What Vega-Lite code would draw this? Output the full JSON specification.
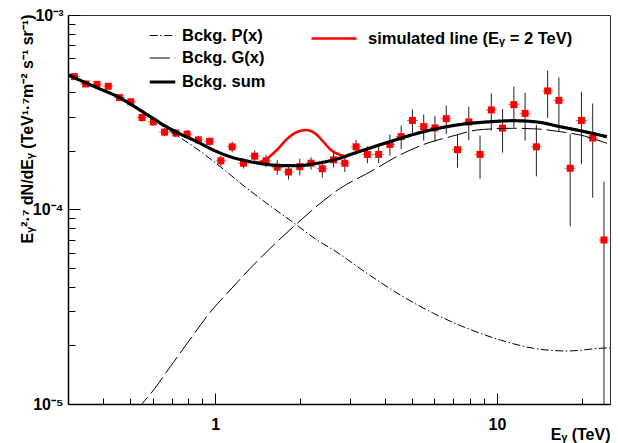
{
  "$schema": "https://vega.github.io/schema/vega-lite/v6.json",
  "width": 542,
  "height": 389,
  "autosize": {"type": "none"},
  "padding": {"left": 68, "top": 15, "right": 8, "bottom": 39},
  "background": "white",
  "config": {
    "view": {"stroke": "#333", "strokeWidth": 1},
    "font": "Liberation Sans",
    "legend": {"labelFont": "Liberation Sans", "labelFontSize": 16.5, "labelFontWeight": "bold", "labelColor": "black", "labelLimit": 400}
  },
  "resolve": {"axis": {"x": "independent"}},
  "datasets": {
    "points": [
      {"x": 0.3162, "y": 4.82e-4, "lo": 4.70e-4, "hi": 4.94e-4},
      {"x": 0.3467, "y": 4.42e-4, "lo": 4.31e-4, "hi": 4.53e-4},
      {"x": 0.3802, "y": 4.40e-4, "lo": 4.29e-4, "hi": 4.51e-4},
      {"x": 0.4169, "y": 4.30e-4, "lo": 4.19e-4, "hi": 4.41e-4},
      {"x": 0.4571, "y": 3.76e-4, "lo": 3.66e-4, "hi": 3.86e-4},
      {"x": 0.5012, "y": 3.58e-4, "lo": 3.48e-4, "hi": 3.68e-4},
      {"x": 0.5495, "y": 2.97e-4, "lo": 2.83e-4, "hi": 3.11e-4},
      {"x": 0.6026, "y": 2.82e-4, "lo": 2.69e-4, "hi": 2.95e-4},
      {"x": 0.6607, "y": 2.50e-4, "lo": 2.38e-4, "hi": 2.62e-4},
      {"x": 0.7244, "y": 2.47e-4, "lo": 2.35e-4, "hi": 2.59e-4},
      {"x": 0.7943, "y": 2.44e-4, "lo": 2.32e-4, "hi": 2.56e-4},
      {"x": 0.8710, "y": 2.28e-4, "lo": 2.17e-4, "hi": 2.39e-4},
      {"x": 0.9550, "y": 2.24e-4, "lo": 2.13e-4, "hi": 2.35e-4},
      {"x": 1.0471, "y": 1.78e-4, "lo": 1.67e-4, "hi": 1.89e-4},
      {"x": 1.1482, "y": 2.10e-4, "lo": 1.97e-4, "hi": 2.23e-4},
      {"x": 1.2589, "y": 1.73e-4, "lo": 1.625e-4, "hi": 1.835e-4},
      {"x": 1.3804, "y": 1.88e-4, "lo": 1.743e-4, "hi": 2.017e-4},
      {"x": 1.5136, "y": 1.78e-4, "lo": 1.65e-4, "hi": 1.91e-4},
      {"x": 1.6596, "y": 1.65e-4, "lo": 1.508e-4, "hi": 1.792e-4},
      {"x": 1.8197, "y": 1.56e-4, "lo": 1.426e-4, "hi": 1.694e-4},
      {"x": 1.9953, "y": 1.66e-4, "lo": 1.496e-4, "hi": 1.824e-4},
      {"x": 2.1878, "y": 1.73e-4, "lo": 1.604e-4, "hi": 1.856e-4},
      {"x": 2.3988, "y": 1.62e-4, "lo": 1.46e-4, "hi": 1.78e-4},
      {"x": 2.6303, "y": 1.80e-4, "lo": 1.645e-4, "hi": 1.955e-4},
      {"x": 2.8840, "y": 1.73e-4, "lo": 1.559e-4, "hi": 1.901e-4},
      {"x": 3.1623, "y": 2.10e-4, "lo": 1.92e-4, "hi": 2.28e-4},
      {"x": 3.4674, "y": 1.92e-4, "lo": 1.73e-4, "hi": 2.11e-4},
      {"x": 3.8019, "y": 1.92e-4, "lo": 1.73e-4, "hi": 2.11e-4},
      {"x": 4.1687, "y": 2.16e-4, "lo": 1.89e-4, "hi": 2.43e-4},
      {"x": 4.5709, "y": 2.37e-4, "lo": 2.04e-4, "hi": 2.70e-4},
      {"x": 5.0119, "y": 2.87e-4, "lo": 2.47e-4, "hi": 3.27e-4},
      {"x": 5.4954, "y": 2.67e-4, "lo": 2.26e-4, "hi": 3.08e-4},
      {"x": 6.0256, "y": 2.63e-4, "lo": 2.23e-4, "hi": 3.03e-4},
      {"x": 6.6069, "y": 2.93e-4, "lo": 2.44e-4, "hi": 3.42e-4},
      {"x": 7.2444, "y": 2.03e-4, "lo": 1.64e-4, "hi": 2.42e-4},
      {"x": 7.9433, "y": 2.82e-4, "lo": 2.27e-4, "hi": 3.37e-4},
      {"x": 8.7096, "y": 1.92e-4, "lo": 1.44e-4, "hi": 2.40e-4},
      {"x": 9.5499, "y": 3.25e-4, "lo": 2.54e-4, "hi": 3.96e-4},
      {"x": 10.471, "y": 2.62e-4, "lo": 1.96e-4, "hi": 3.28e-4},
      {"x": 11.482, "y": 3.46e-4, "lo": 2.64e-4, "hi": 4.28e-4},
      {"x": 12.589, "y": 3.12e-4, "lo": 2.26e-4, "hi": 3.98e-4},
      {"x": 13.804, "y": 2.10e-4, "lo": 1.48e-4, "hi": 2.72e-4},
      {"x": 15.136, "y": 4.07e-4, "lo": 2.96e-4, "hi": 5.18e-4},
      {"x": 16.596, "y": 3.64e-4, "lo": 2.50e-4, "hi": 4.78e-4},
      {"x": 18.197, "y": 1.63e-4, "lo": 0.82e-4, "hi": 2.44e-4},
      {"x": 19.953, "y": 2.87e-4, "lo": 1.71e-4, "hi": 4.03e-4},
      {"x": 21.878, "y": 2.33e-4, "lo": 1.15e-4, "hi": 3.51e-4},
      {"x": 23.988, "y": 6.97e-5, "lo": 1.0e-6, "hi": 1.39e-4}
    ],
    "curves": [
      {"curve": "Bckg. P(x)", "x": 0.3008, "y": 4.914e-4},
      {"curve": "Bckg. P(x)", "x": 0.375, "y": 4.264e-4},
      {"curve": "Bckg. P(x)", "x": 0.4562, "y": 3.765e-4},
      {"curve": "Bckg. P(x)", "x": 0.5493, "y": 3.152e-4},
      {"curve": "Bckg. P(x)", "x": 0.7110, "y": 2.465e-4},
      {"curve": "Bckg. P(x)", "x": 0.8611, "y": 2.047e-4},
      {"curve": "Bckg. P(x)", "x": 1.0417, "y": 1.660e-4},
      {"curve": "Bckg. P(x)", "x": 1.2959, "y": 1.285e-4},
      {"curve": "Bckg. P(x)", "x": 1.6104, "y": 1.014e-4},
      {"curve": "Bckg. P(x)", "x": 1.9231, "y": 8.423e-5},
      {"curve": "Bckg. P(x)", "x": 2.2964, "y": 6.970e-5},
      {"curve": "Bckg. P(x)", "x": 2.6302, "y": 6.189e-5},
      {"curve": "Bckg. P(x)", "x": 3.4554, "y": 4.698e-5},
      {"curve": "Bckg. P(x)", "x": 4.5375, "y": 3.634e-5},
      {"curve": "Bckg. P(x)", "x": 5.9560, "y": 2.926e-5},
      {"curve": "Bckg. P(x)", "x": 7.8264, "y": 2.450e-5},
      {"curve": "Bckg. P(x)", "x": 10.274, "y": 2.134e-5},
      {"curve": "Bckg. P(x)", "x": 13.487, "y": 1.934e-5},
      {"curve": "Bckg. P(x)", "x": 17.722, "y": 1.873e-5},
      {"curve": "Bckg. P(x)", "x": 23.265, "y": 1.934e-5},
      {"curve": "Bckg. P(x)", "x": 25.2, "y": 1.948e-5},
      {"curve": "Bckg. G(x)", "x": 0.5200, "y": 8.99e-6},
      {"curve": "Bckg. G(x)", "x": 0.5493, "y": 1.000e-5},
      {"curve": "Bckg. G(x)", "x": 0.6039, "y": 1.180e-5},
      {"curve": "Bckg. G(x)", "x": 0.6921, "y": 1.555e-5},
      {"curve": "Bckg. G(x)", "x": 0.8266, "y": 2.218e-5},
      {"curve": "Bckg. G(x)", "x": 0.9734, "y": 3.042e-5},
      {"curve": "Bckg. G(x)", "x": 1.1304, "y": 3.857e-5},
      {"curve": "Bckg. G(x)", "x": 1.3312, "y": 4.985e-5},
      {"curve": "Bckg. G(x)", "x": 1.5676, "y": 6.316e-5},
      {"curve": "Bckg. G(x)", "x": 1.9231, "y": 8.324e-5},
      {"curve": "Bckg. G(x)", "x": 2.7782, "y": 1.285e-4},
      {"curve": "Bckg. G(x)", "x": 3.6469, "y": 1.596e-4},
      {"curve": "Bckg. G(x)", "x": 4.2956, "y": 1.833e-4},
      {"curve": "Bckg. G(x)", "x": 5.6433, "y": 2.190e-4},
      {"curve": "Bckg. G(x)", "x": 6.8280, "y": 2.367e-4},
      {"curve": "Bckg. G(x)", "x": 8.4918, "y": 2.562e-4},
      {"curve": "Bckg. G(x)", "x": 9.4673, "y": 2.594e-4},
      {"curve": "Bckg. G(x)", "x": 11.428, "y": 2.616e-4},
      {"curve": "Bckg. G(x)", "x": 13.901, "y": 2.594e-4},
      {"curve": "Bckg. G(x)", "x": 16.775, "y": 2.512e-4},
      {"curve": "Bckg. G(x)", "x": 19.756, "y": 2.415e-4},
      {"curve": "Bckg. G(x)", "x": 24.574, "y": 2.190e-4},
      {"curve": "Bckg. sum", "x": 0.3008, "y": 4.914e-4},
      {"curve": "Bckg. sum", "x": 0.375, "y": 4.264e-4},
      {"curve": "Bckg. sum", "x": 0.4562, "y": 3.765e-4},
      {"curve": "Bckg. sum", "x": 0.4993, "y": 3.485e-4},
      {"curve": "Bckg. sum", "x": 0.5689, "y": 3.097e-4},
      {"curve": "Bckg. sum", "x": 0.6552, "y": 2.720e-4},
      {"curve": "Bckg. sum", "x": 0.7512, "y": 2.444e-4},
      {"curve": "Bckg. sum", "x": 0.8611, "y": 2.232e-4},
      {"curve": "Bckg. sum", "x": 0.9838, "y": 2.023e-4},
      {"curve": "Bckg. sum", "x": 1.1304, "y": 1.868e-4},
      {"curve": "Bckg. sum", "x": 1.2959, "y": 1.776e-4},
      {"curve": "Bckg. sum", "x": 1.4840, "y": 1.714e-4},
      {"curve": "Bckg. sum", "x": 1.7011, "y": 1.683e-4},
      {"curve": "Bckg. sum", "x": 1.9500, "y": 1.679e-4},
      {"curve": "Bckg. sum", "x": 2.2964, "y": 1.728e-4},
      {"curve": "Bckg. sum", "x": 2.6302, "y": 1.797e-4},
      {"curve": "Bckg. sum", "x": 3.1844, "y": 1.968e-4},
      {"curve": "Bckg. sum", "x": 4.1812, "y": 2.237e-4},
      {"curve": "Bckg. sum", "x": 5.4887, "y": 2.512e-4},
      {"curve": "Bckg. sum", "x": 7.2124, "y": 2.720e-4},
      {"curve": "Bckg. sum", "x": 9.4673, "y": 2.827e-4},
      {"curve": "Bckg. sum", "x": 11.428, "y": 2.861e-4},
      {"curve": "Bckg. sum", "x": 13.901, "y": 2.817e-4},
      {"curve": "Bckg. sum", "x": 16.775, "y": 2.665e-4},
      {"curve": "Bckg. sum", "x": 19.756, "y": 2.541e-4},
      {"curve": "Bckg. sum", "x": 24.574, "y": 2.367e-4}
    ],
    "sim": [
      {"series": "simulated line (Eᵧ = 2 TeV)", "x": 1.3868, "y": 1.738e-4},
      {"series": "simulated line (Eᵧ = 2 TeV)", "x": 1.4840, "y": 1.776e-4},
      {"series": "simulated line (Eᵧ = 2 TeV)", "x": 1.5676, "y": 1.884e-4},
      {"series": "simulated line (Eᵧ = 2 TeV)", "x": 1.6558, "y": 2.023e-4},
      {"series": "simulated line (Eᵧ = 2 TeV)", "x": 1.7968, "y": 2.304e-4},
      {"series": "simulated line (Eᵧ = 2 TeV)", "x": 1.9500, "y": 2.503e-4},
      {"series": "simulated line (Eᵧ = 2 TeV)", "x": 2.1038, "y": 2.562e-4},
      {"series": "simulated line (Eᵧ = 2 TeV)", "x": 2.2647, "y": 2.459e-4},
      {"series": "simulated line (Eᵧ = 2 TeV)", "x": 2.4238, "y": 2.224e-4},
      {"series": "simulated line (Eᵧ = 2 TeV)", "x": 2.5601, "y": 2.035e-4},
      {"series": "simulated line (Eᵧ = 2 TeV)", "x": 2.7782, "y": 1.906e-4},
      {"series": "simulated line (Eᵧ = 2 TeV)", "x": 2.9417, "y": 1.873e-4}
    ]
  },
  "layer": [
    {
      "data": {"name": "points"},
      "mark": {"type": "rule", "color": "#222", "strokeWidth": 1, "clip": true},
      "encoding": {
        "x": {
          "field": "x", "type": "quantitative",
          "scale": {"type": "log", "domain": [0.3, 25.2], "nice": false},
          "axis": {
            "orient": "bottom",
            "values": [1, 10],
            "labelExpr": "datum.value == 1 ? '1' : '10'",
            "tickSize": -11,
            "tickColor": "black", "tickWidth": 1,
            "domainColor": "black", "domainWidth": 1.5,
            "grid": false,
            "labelFont": "Liberation Sans", "labelFontSize": 16, "labelFontWeight": "bold", "labelColor": "black",
            "labelPadding": 23, "labelOverlap": false, "labelFlush": false, "labelBaseline": "top",
            "title": "Eᵧ (TeV)",
            "titleFont": "Liberation Sans", "titleFontSize": 16, "titleFontWeight": "bold", "titleColor": "black",
            "titleX": 542, "titleY": 35, "titleAlign": "right", "titleBaseline": "alphabetic"
          }
        },
        "y": {
          "field": "lo", "type": "quantitative",
          "scale": {"type": "log", "domain": [1e-5, 1e-3], "nice": false},
          "axis": {
            "values": [0.00001, 0.00002, 0.00003, 0.00004, 0.00005, 0.00006, 0.00007, 0.00008, 0.00009, 0.0001, 0.0002, 0.0003, 0.0004, 0.0005, 0.0006, 0.0007, 0.0008, 0.0009, 0.001],
            "labelExpr": "datum.value == 0.001 ? '10⁻³' : datum.value == 0.0001 ? '10⁻⁴' : datum.value == 0.00001 ? '10⁻⁵' : ''",
            "tickSize": {"condition": {"test": "datum.value == 0.001 || datum.value == 0.0001 || datum.value == 0.00001", "value": -12}, "value": -7},
            "tickColor": "black", "tickWidth": 1,
            "domainColor": "black", "domainWidth": 1.5,
            "grid": false,
            "labelFont": "Liberation Sans", "labelFontSize": 16, "labelFontWeight": "bold", "labelColor": "black",
            "labelPadding": 17, "labelOverlap": false, "labelFlush": false,
            "title": "Eᵧ²·⁷ dN/dEᵧ (TeV¹·⁷m⁻² s⁻¹ sr⁻¹)",
            "titleFont": "Liberation Sans", "titleFontSize": 16, "titleFontWeight": "bold", "titleColor": "black",
            "titleX": -36, "titleY": -1, "titleAlign": "right", "titleAngle": 270, "titleBaseline": "alphabetic"
          }
        },
        "y2": {"field": "hi"}
      }
    },
    {
      "data": {"name": "points"},
      "mark": {"type": "tick", "orient": "horizontal", "size": 11, "thickness": 1, "color": "#555", "clip": true},
      "encoding": {
        "x": {
          "field": "x", "type": "quantitative",
          "scale": {"type": "log", "domain": [0.3, 25.2], "nice": false},
          "axis": {
            "orient": "bottom",
            "values": [0.4, 0.5, 0.6, 0.7, 0.8, 0.9, 2, 3, 4, 5, 6, 7, 8, 9, 20],
            "labels": false, "domain": false, "grid": false, "title": null,
            "tickSize": -6, "tickColor": "black", "tickWidth": 1
          }
        },
        "y": {"field": "y", "type": "quantitative", "scale": {"type": "log", "domain": [1e-5, 1e-3], "nice": false}}
      }
    },
    {
      "data": {"name": "points"},
      "mark": {"type": "point", "shape": "square", "filled": true, "size": 49, "color": "#ff0000", "opacity": 1, "clip": true},
      "encoding": {
        "x": {"field": "x", "type": "quantitative", "scale": {"type": "log", "domain": [0.3, 25.2], "nice": false}, "axis": null},
        "y": {"field": "y", "type": "quantitative", "scale": {"type": "log", "domain": [1e-5, 1e-3], "nice": false}}
      }
    },
    {
      "data": {"name": "sim"},
      "mark": {"type": "line", "strokeWidth": 2.5, "interpolate": "monotone", "clip": true},
      "encoding": {
        "x": {"field": "x", "type": "quantitative", "scale": {"type": "log", "domain": [0.3, 25.2], "nice": false}, "axis": null},
        "y": {"field": "y", "type": "quantitative", "scale": {"type": "log", "domain": [1e-5, 1e-3], "nice": false}},
        "color": {
          "field": "series", "type": "nominal",
          "scale": {"domain": ["simulated line (Eᵧ = 2 TeV)"], "range": ["#ff0000"]},
          "legend": {
            "orient": "none", "legendX": 249.5, "legendY": 7, "title": null,
            "symbolType": "M-1.5,0H1.5", "symbolSize": 900, "symbolStrokeWidth": 2.5,
            "labelOffset": 17.5
          }
        }
      }
    },
    {
      "data": {"name": "curves"},
      "mark": {"type": "line", "color": "black", "interpolate": "monotone", "clip": true},
      "encoding": {
        "x": {"field": "x", "type": "quantitative", "scale": {"type": "log", "domain": [0.3, 25.2], "nice": false}, "axis": null},
        "y": {"field": "y", "type": "quantitative", "scale": {"type": "log", "domain": [1e-5, 1e-3], "nice": false}},
        "strokeDash": {
          "field": "curve", "type": "nominal",
          "scale": {"domain": ["Bckg. P(x)", "Bckg. G(x)", "Bckg. sum"], "range": [[8, 2.5, 1.5, 2.5], [20, 5], [1, 0]]},
          "legend": {
            "orient": "none", "legendX": 84, "legendY": 11.5, "title": null,
            "symbolType": "M-1.5,0H1.5", "symbolSize": 289, "symbolStrokeColor": "black",
            "labelOffset": 9, "rowPadding": 4.5
          }
        },
        "strokeWidth": {
          "field": "curve", "type": "nominal",
          "scale": {"type": "ordinal", "domain": ["Bckg. P(x)", "Bckg. G(x)", "Bckg. sum"], "range": [1, 1, 3.2]},
          "legend": {
            "orient": "none", "legendX": 84, "legendY": 11.5, "title": null,
            "symbolType": "M-1.5,0H1.5", "symbolSize": 289, "symbolStrokeColor": "black",
            "labelOffset": 9, "rowPadding": 4.5
          }
        }
      }
    }
  ]
}
